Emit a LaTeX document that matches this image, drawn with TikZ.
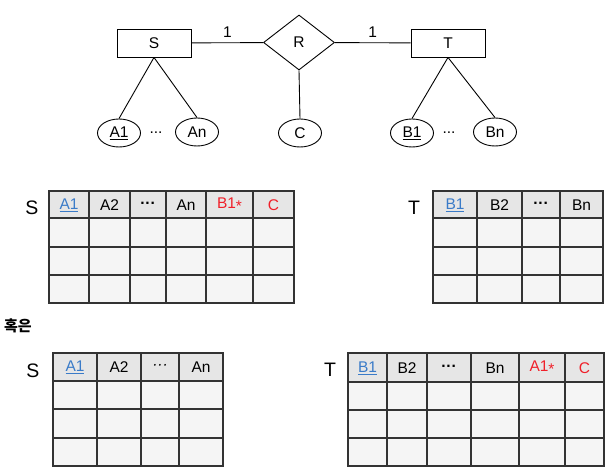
\documentclass[tikz,border=0pt]{standalone}
\usepackage{fontspec}
\setmainfont{Liberation Sans}
\newfontfamily\kofont{Noto Sans CJK KR}
\usetikzlibrary{shapes.geometric}
\definecolor{gridc}{HTML}{333333}
\definecolor{hdrc}{HTML}{E6E6E6}
\definecolor{bodyc}{HTML}{F5F5F5}
\definecolor{bluec}{HTML}{3A7BC8}
\definecolor{redc}{HTML}{F0202A}
\newcommand{\lowstar}{\raisebox{-0.35ex}{*}}
\begin{document}
\begin{tikzpicture}[x=1pt,y=-1pt,
  ent/.style={draw, line width=0.9pt, minimum width=74pt, minimum height=28pt, inner sep=0pt, font=\fontsize{15.5}{15.5}\selectfont},
  rel/.style={draw, diamond, aspect=1.29, line width=0.9pt, minimum width=71pt, minimum height=55pt, inner sep=0pt, font=\fontsize{15.5}{15.5}\selectfont},
  att/.style={draw, ellipse, line width=0.9pt, minimum width=43pt, minimum height=28pt, inner sep=0pt, font=\fontsize{15.5}{15.5}\selectfont},
  lbl/.style={inner sep=0pt, font=\fontsize{15.5}{15.5}\selectfont},
  tlbl/.style={inner sep=0pt, font=\fontsize{19.5}{19.5}\selectfont},
  hd/.style={inner sep=0pt, font=\fontsize{15.5}{15.5}\selectfont},
  grid/.style={draw=gridc, line width=1.5pt},
  er/.style={line width=0.9pt}]
\useasboundingbox (0,0) rectangle (614,473);
% ER diagram
\node[ent] (S) at (154,43) {S};
\node[rel] (R) at (299,42.5) {R};
\node[ent] (T) at (448,43) {T};
\node[att] (A1) at (119,133) {\underline{A1}};
\node[att] (An) at (197,132) {An};
\node[att] (C) at (300,133) {C};
\node[att] (B1) at (412,133) {\underline{B1}};
\node[att] (Bn) at (495,132) {Bn};
\node[lbl] (d1) at (156,133) {...};
\node[lbl] (d2) at (449,133) {...};
\draw[er] (S) -- node[lbl, above=5pt] (one1) {1} (R);
\draw[er] (R) -- node[lbl, above=5pt] (one2) {1} (T);
\draw[er] (S.south) -- (A1.north);
\draw[er] (S.south) -- (An.north);
\draw[er] (R.south) -- (C.north);
\draw[er] (T.south) -- (B1.north);
\draw[er] (T.south) -- (Bn.north);
% Table 1: S
\fill[hdrc] (49,191) rectangle (294,218);
\fill[bodyc] (49,218) rectangle (294,303);
\foreach \x in {89,130,166,206,253} \draw[grid] (\x,191) -- (\x,303);
\foreach \y in {218,247,275} \draw[grid] (49,\y) -- (294,\y);
\draw[grid] (49,191) rectangle (294,303);
\node[tlbl] (ls1) at (32,208) {S};
\node[hd, text=bluec] (s1a) at (69,205) {\underline{A1}};
\node[hd] (s1b) at (109.5,205) {A2};
\node[hd] (s1c) at (148,205) {\textbf{···}};
\node[hd] (s1d) at (186,205) {An};
\node[hd, text=redc] (s1e) at (229.5,205) {B1\lowstar};
\node[hd, text=redc] (s1f) at (273.5,205) {C};
% Table 2: T
\fill[hdrc] (433,191) rectangle (603,218);
\fill[bodyc] (433,218) rectangle (603,303);
\foreach \x in {477,522,560} \draw[grid] (\x,191) -- (\x,303);
\foreach \y in {218,247,275} \draw[grid] (433,\y) -- (603,\y);
\draw[grid] (433,191) rectangle (603,303);
\node[tlbl] (lt1) at (414,208) {T};
\node[hd, text=bluec] (t1a) at (455,205) {\underline{B1}};
\node[hd] (t1b) at (499.5,205) {B2};
\node[hd] (t1c) at (541,205) {\textbf{···}};
\node[hd] (t1d) at (581.5,205) {Bn};
% or
\node[inner sep=0pt, anchor=west, font=\kofont\bfseries\fontsize{15}{15}\selectfont] (or) at (4,326) {혹은};
% Table 3: S
\fill[hdrc] (53,353) rectangle (223,381);
\fill[bodyc] (53,381) rectangle (223,466);
\foreach \x in {97,141,179} \draw[grid] (\x,353) -- (\x,466);
\foreach \y in {381,409,438} \draw[grid] (53,\y) -- (223,\y);
\draw[grid] (53,353) rectangle (223,466);
\node[tlbl] (ls2) at (33,371) {S};
\node[hd, text=bluec] (s2a) at (75,367) {\underline{A1}};
\node[hd] (s2b) at (119,367) {A2};
\node[hd] (s2c) at (160,367) {\textit{···}};
\node[hd] (s2d) at (201,367) {An};
% Table 4: T
\fill[hdrc] (348,353) rectangle (604,382);
\fill[bodyc] (348,382) rectangle (604,466);
\foreach \x in {387,427,471,519,565} \draw[grid] (\x,353) -- (\x,466);
\foreach \y in {382,410,438} \draw[grid] (348,\y) -- (604,\y);
\draw[grid] (348,353) rectangle (604,466);
\node[tlbl] (lt2) at (330,370) {T};
\node[hd, text=bluec] (t2a) at (367.5,368) {\underline{B1}};
\node[hd] (t2b) at (407,368) {B2};
\node[hd] (t2c) at (449,368) {\textbf{···}};
\node[hd] (t2d) at (495,368) {Bn};
\node[hd, text=redc] (t2e) at (542,368) {A1\lowstar};
\node[hd, text=redc] (t2f) at (584.5,368) {C};
\end{tikzpicture}
\end{document}
